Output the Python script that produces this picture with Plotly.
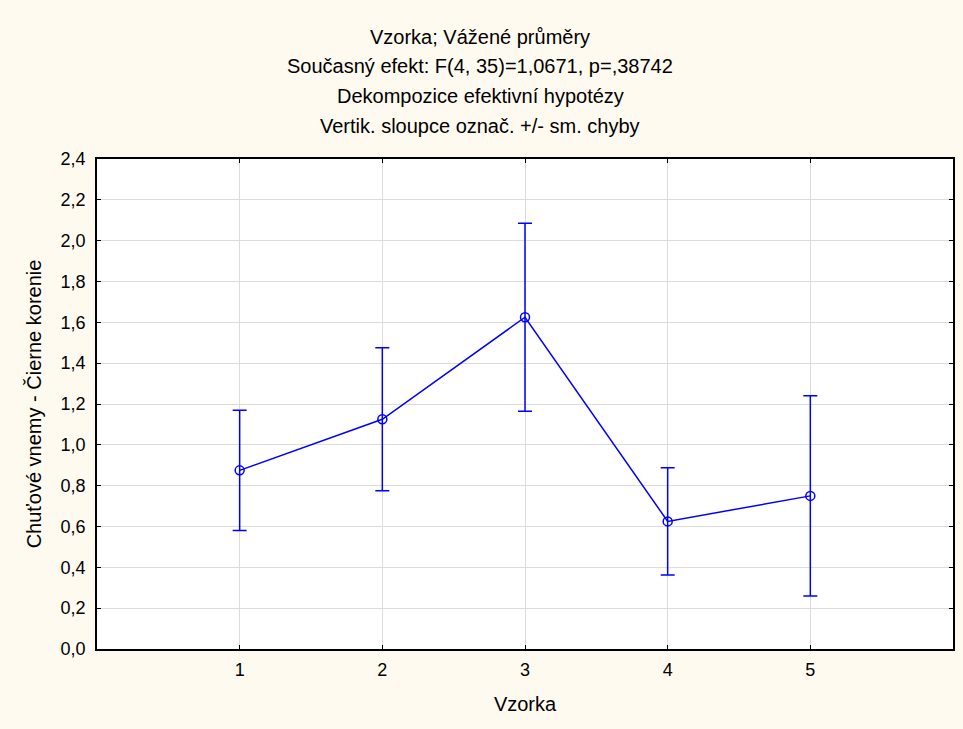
import plotly.graph_objects as go

categories = [1, 2, 3, 4, 5]
means = [0.875, 1.125, 1.625, 0.625, 0.75]
std_err = [0.295, 0.35, 0.46, 0.263, 0.49]

title_lines = [
    "Vzorka; Vážené průměry",
    "Současný efekt: F(4, 35)=1,0671, p=,38742",
    "Dekompozice efektivní hypotézy",
    "Vertik. sloupce označ. +/- sm. chyby",
]

blue = "#0000FF"
bg = "#FFFAF0"
font = "Liberation Sans, Arial, sans-serif"

fig = go.Figure()
fig.add_trace(go.Scatter(
    x=categories, y=means, mode="lines+markers",
    line=dict(color=blue, width=1.5),
    marker=dict(symbol="circle-open", size=9, color=blue, line=dict(width=1.5)),
    error_y=dict(type="data", array=std_err, visible=True, color=blue,
                 thickness=1.5, width=7),
    showlegend=False,
))

W, H, L, R, T, B = 963, 729, 97, 8, 159, 80
pw, ph = W - L - R, H - T - B
title_y_px = [37, 66, 96, 126]
title_x_px = 481
for t, ypx in zip(title_lines, title_y_px):
    fig.add_annotation(text=t, x=(title_x_px - L) / pw, xref="paper",
                       y=(H - B - ypx) / ph, yref="paper",
                       showarrow=False, font=dict(size=20, color="black", family=font),
                       xanchor="center", yanchor="middle")

axis_common = dict(
    showgrid=True, gridcolor="#DCDCDC", gridwidth=1,
    showline=True, linecolor="black", linewidth=1.5, mirror="ticks",
    ticks="inside", ticklen=4, tickcolor="black", zeroline=False,
    tickfont=dict(size=18, color="black", family=font),
)

fig.update_layout(
    width=W, height=H,
    margin=dict(l=L, r=R, t=T, b=B),
    paper_bgcolor=bg,
    plot_bgcolor="white",
    separators=", ",
    font=dict(family=font, size=18, color="black"),
    xaxis=dict(range=[0, 6], tickvals=categories, ticktext=[str(c) for c in categories],
               ticklabelstandoff=4,
               title=dict(text="Vzorka", font=dict(size=20), standoff=18),
               **axis_common),
    yaxis=dict(range=[0, 2.4], dtick=0.2, tickformat=".1f",
               ticklabelstandoff=6,
               title=dict(text="Chuťové vnemy - Čierne korenie", font=dict(size=20), standoff=14),
               **axis_common),
)

fig.write_html("out.html", config={"displayModeBar": False},
               post_script="document.body.style.margin='0';document.body.style.background='%s';" % bg)
